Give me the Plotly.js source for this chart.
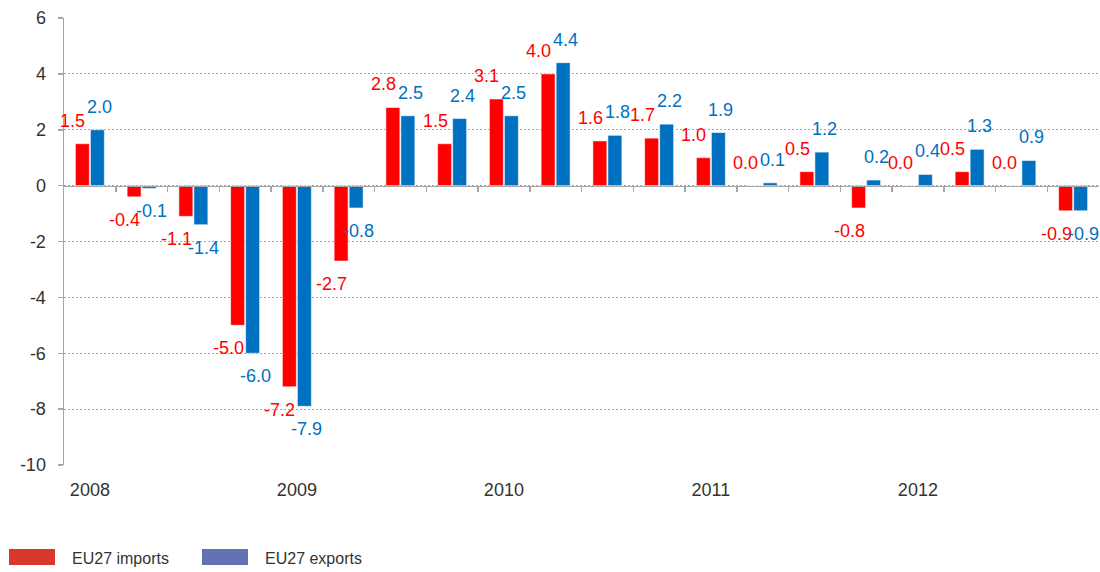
<!DOCTYPE html>
<html><head><meta charset="utf-8">
<script src="https://cdn.plot.ly/plotly-3.0.1.min.js"></script>
<style>html,body{margin:0;padding:0;background:#fff}#chart{width:1100px;height:572px}</style>
</head><body><div id="chart"></div>
<script>
const quarters = ['2008 Q1','2008 Q2','2008 Q3','2008 Q4','2009 Q1','2009 Q2','2009 Q3','2009 Q4',
  '2010 Q1','2010 Q2','2010 Q3','2010 Q4','2011 Q1','2011 Q2','2011 Q3','2011 Q4',
  '2012 Q1','2012 Q2','2012 Q3','2012 Q4'];
const imports = [1.5,-0.4,-1.1,-5.0,-7.2,-2.7,2.8,1.5,3.1,4.0,1.6,1.7,1.0,0.0,0.5,-0.8,0.0,0.5,0.0,-0.9];
const exports_ = [2.0,-0.1,-1.4,-6.0,-7.9,-0.8,2.5,2.4,2.5,4.4,1.8,2.2,1.9,0.1,1.2,0.2,0.4,1.3,0.9,-0.9];
const yearLabels = ['2008','2009','2010','2011','2012'];
const yTicks = [6,4,2,0,-2,-4,-6,-8,-10];

const RED = '#ff0000', BLUE = '#0070c0';
const FONT = 'Liberation Sans, Arial, sans-serif';
const xIdx = quarters.map((q,i)=>i);
const yearIdx = yearLabels.map(y => quarters.indexOf(y + ' Q1'));

const traces = [
  {type:'bar', name:'EU27 imports', x:xIdx, y:imports, marker:{color:RED, line:{color:'rgba(255,255,255,0.55)', width:1}}, hoverinfo:'y', showlegend:false},
  {type:'bar', name:'EU27 exports', x:xIdx, y:exports_, marker:{color:BLUE, line:{color:'rgba(255,255,255,0.55)', width:1}}, hoverinfo:'y', showlegend:false},
  {type:'scatter', x:[-0.5,19.5], y:[0,0], xaxis:'x2', mode:'none', hoverinfo:'skip', showlegend:false}
];

const annotations = [];
function addLabels(vals, color, dx){
  vals.forEach((v,i)=>{
    annotations.push({x:i, y:v, xref:'x', yref:'y', text:v.toFixed(1), showarrow:false,
      xshift:dx, yshift: v>=0 ? 23 : -23, font:{family:FONT, size:18, color:color}});
  });
}
addLabels(imports, RED, -17);
addLabels(exports_, BLUE, 10);

// custom legend
const legendItems = [{t:'EU27 imports', c:'#d9372a', x0:9}, {t:'EU27 exports', c:'#6272b2', x0:202}];
const shapes = [];
legendItems.forEach(it=>{
  shapes.push({type:'rect', xref:'paper', yref:'paper', x0:(it.x0-64)/1035, x1:(it.x0+46-64)/1035,
    y0:-(565-465)/447, y1:-(549-465)/447, fillcolor:it.c, line:{width:0}});
  annotations.push({xref:'paper', yref:'paper', x:(it.x0+61-64)/1035, y:-(558-465)/447, xanchor:'left', yanchor:'middle',
    text:it.t, showarrow:false, font:{family:FONT, size:16, color:'#333333'}});
});

const layout = {
  width:1100, height:572,
  margin:{l:64, r:1, t:18, b:107},
  paper_bgcolor:'#fff', plot_bgcolor:'#fff',
  barmode:'group', bargap:0.42, bargroupgap:0.07,
  font:{family:FONT, size:18, color:'#404040'},
  showlegend:false,
  xaxis:{range:[-0.5,19.5], tickvals:yearIdx, ticktext:yearLabels, ticks:'', showgrid:false, zeroline:false,
    showline:false, ticklabelstandoff:12, tickfont:{size:18, color:'#333'}},
  xaxis2:{overlaying:'x', anchor:'free', position:10/16, range:[-0.5,19.5], showline:true, linecolor:'#a6a6a6', linewidth:1.5,
    ticks:'outside', ticklen:5, tickcolor:'#a6a6a6', tickwidth:1.5, tickvals:xIdx.map(i=>i+0.5).slice(0,19), showticklabels:false,
    showgrid:false, zeroline:false},
  yaxis:{range:[-10,6], tickvals:yTicks, ticktext:yTicks.map(String), ticks:'outside', ticklen:5, tickcolor:'#a6a6a6', tickwidth:1.5,
    showline:true, linecolor:'#a6a6a6', linewidth:1.5, showgrid:true, gridcolor:'#a6a6a6', griddash:'2px,2px', gridwidth:1,
    zeroline:false, ticklabelstandoff:8, tickfont:{size:18, color:'#333'}},
  annotations:annotations, shapes:shapes
};
Plotly.newPlot('chart', traces, layout, {displayModeBar:false, staticPlot:true});
</script></body></html>
